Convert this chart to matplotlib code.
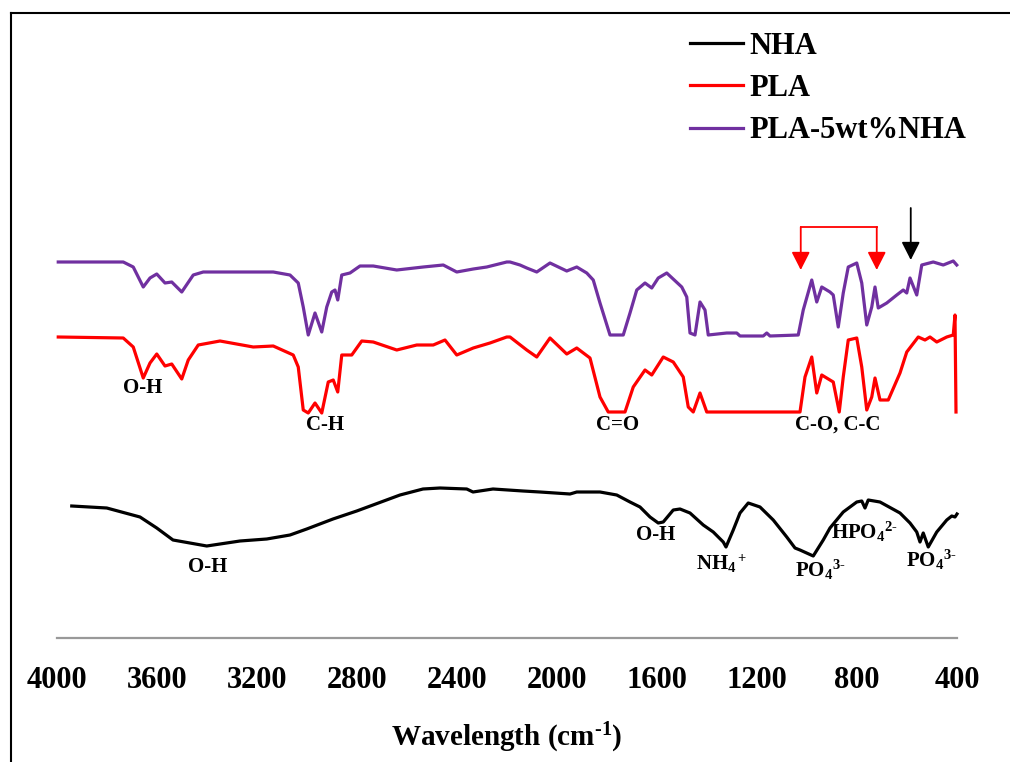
import matplotlib
matplotlib.use("Agg")
import matplotlib.pyplot as plt
from matplotlib.lines import Line2D

# FTIR spectra (wavenumber cm-1, offset transmittance a.u.)
nha_wn = [3941, 3801, 3668, 3601, 3536, 3401, 3268, 3161, 3068, 3001, 2896, 2801, 2736,
          2628, 2536, 2468, 2361, 2336, 2256, 2136, 2068, 1948, 1921, 1828, 1761, 1708,
          1668, 1628, 1595, 1575, 1535, 1508, 1468, 1415, 1375, 1335, 1324, 1295, 1268,
          1235, 1188, 1135, 1081, 1048, 1028, 975, 935, 908, 855, 801, 781, 768, 755,
          708, 628, 588, 561, 548, 535, 515, 481, 441, 421, 408, 400]
nha_t = [1.32, 1.30, 1.21, 1.10, 0.98, 0.92, 0.97, 0.99, 1.03, 1.09, 1.19, 1.27, 1.33,
         1.43, 1.49, 1.50, 1.49, 1.46, 1.49, 1.47, 1.46, 1.44, 1.46, 1.46, 1.43, 1.36,
         1.31, 1.21, 1.15, 1.16, 1.28, 1.29, 1.25, 1.13, 1.06, 0.96, 0.91, 1.08, 1.25,
         1.35, 1.31, 1.18, 1.01, 0.90, 0.88, 0.82, 0.98, 1.10, 1.26, 1.36, 1.37, 1.30, 1.38,
         1.36, 1.25, 1.15, 1.06, 0.96, 1.05, 0.91, 1.06, 1.18, 1.22, 1.21, 1.24]

pla_wn = [3995, 3735, 3695, 3655, 3628, 3601, 3568, 3541, 3501, 3475, 3435, 3348, 3215,
          3135, 3055, 3035, 3015, 2995, 2968, 2941, 2915, 2895, 2877, 2861, 2821, 2781,
          2735, 2641, 2561, 2495, 2448, 2401, 2335, 2268, 2201, 2188, 2121, 2081, 2028,
          1961, 1921, 1868, 1828, 1795, 1728, 1695, 1648, 1621, 1575, 1535, 1495, 1475,
          1455, 1428, 1401, 1028, 1008, 981, 961, 941, 895, 871, 855, 835, 801, 781, 761,
          741, 728, 708, 675, 628, 601, 555, 528, 508, 481, 441, 415, 408, 404]
pla_t = [3.01, 3.00, 2.91, 2.60, 2.75, 2.84, 2.72, 2.74, 2.59, 2.78, 2.93, 2.97, 2.91,
         2.92, 2.83, 2.71, 2.28, 2.25, 2.35, 2.25, 2.56, 2.58, 2.46, 2.83, 2.83, 2.97,
         2.96, 2.88, 2.93, 2.93, 2.98, 2.83, 2.90, 2.95, 3.01, 3.01, 2.88, 2.81, 3.00,
         2.84, 2.90, 2.80, 2.41, 2.26, 2.26, 2.51, 2.68, 2.63, 2.81, 2.76, 2.61, 2.31,
         2.26, 2.45, 2.26, 2.26, 2.61, 2.81, 2.45, 2.63, 2.56, 2.26, 2.61, 2.98, 3.00, 2.71, 2.28,
         2.41, 2.60, 2.38, 2.38, 2.65, 2.86, 3.01, 2.98, 3.01, 2.96, 3.01, 3.03, 3.23, 2.26]

mix_wn = [3995, 3735, 3695, 3655, 3628, 3601, 3568, 3541, 3501, 3455, 3415, 3215, 3135,
          3068, 3035, 3015, 2995, 2968, 2941, 2921, 2901, 2888, 2877, 2861, 2828, 2788,
          2735, 2641, 2535, 2455, 2401, 2335, 2281, 2201, 2188, 2148, 2121, 2081, 2028,
          1961, 1921, 1881, 1855, 1828, 1788, 1735, 1708, 1681, 1648, 1621, 1595, 1561,
          1501, 1481, 1468, 1448, 1428, 1408, 1395, 1321, 1281, 1268, 1175, 1161, 1148,
          1035, 1015, 981, 961, 941, 908, 895, 875, 855, 835, 801, 781, 761, 741, 728,
          715, 681, 641, 615, 601, 588, 561, 541, 495, 455, 415, 401]
mix_t = [3.76, 3.76, 3.71, 3.51, 3.60, 3.64, 3.55, 3.56, 3.46, 3.63, 3.66, 3.66, 3.66,
         3.63, 3.55, 3.31, 3.03, 3.25, 3.06, 3.31, 3.46, 3.48, 3.38, 3.63, 3.65, 3.72,
         3.72, 3.68, 3.71, 3.73, 3.66, 3.69, 3.71, 3.76, 3.76, 3.73, 3.70, 3.66, 3.75,
         3.67, 3.71, 3.65, 3.58, 3.35, 3.03, 3.03, 3.25, 3.48, 3.55, 3.50, 3.60, 3.65,
         3.51, 3.41, 3.05, 3.03, 3.36, 3.28, 3.03, 3.05, 3.05, 3.02, 3.02, 3.05, 3.02,
         3.03, 3.28, 3.58, 3.36, 3.51, 3.46, 3.43, 3.11, 3.45, 3.71, 3.75, 3.55, 3.13, 3.31, 3.51,
         3.30, 3.35, 3.43, 3.48, 3.45, 3.60, 3.43, 3.73, 3.76, 3.73, 3.77, 3.73]

series_names = ["NHA", "PLA", "PLA-5wt%NHA"]
series_colors = ["#000000", "#FF0000", "#7030A0"]

tick_values = [4000, 3600, 3200, 2800, 2400, 2000, 1600, 1200, 800, 400]

# band labels: (text, wavenumber, y)
band_labels = [
    ("O-H", 3656, 2.50), ("C-H", 2926, 2.13), ("C=O", 1756, 2.13), ("C-O, C-C", 876, 2.13),
    ("O-H", 3396, 0.71), ("O-H", 1604, 1.03), (r"NH$_4$$^+$", 1340, 0.74),
    (r"PO$_4$$^{3\text{-}}$", 948, 0.68), (r"HPO$_4$$^{2\text{-}}$", 772, 1.06),
    (r"PO$_4$$^{3\text{-}}$", 504, 0.78),
]

plt.rcParams["font.family"] = ["Liberation Serif", "DejaVu Serif"]
plt.rcParams["font.weight"] = "bold"
plt.rcParams["mathtext.fontset"] = "custom"
plt.rcParams["mathtext.rm"] = "Liberation Serif:bold"
plt.rcParams["mathtext.it"] = "Liberation Serif:bold"
plt.rcParams["mathtext.bf"] = "Liberation Serif:bold"

W, H = 1010, 762
fig = plt.figure(figsize=(W / 100, H / 100), dpi=100)
ax = fig.add_axes([57 / W, (H - 638) / H, 900 / W, 626 / H])

lw = 2.3
for wn, t, name, c in zip([nha_wn, pla_wn, mix_wn], [nha_t, pla_t, mix_t], series_names, series_colors):
    ax.plot(wn, t, color=c, lw=lw, label=name, solid_joinstyle="round", clip_on=False)

ax.set_xlim(4000, 400)
ax.set_ylim(0, 6.26)
for s in ["top", "left", "right"]:
    ax.spines[s].set_visible(False)
ax.spines["bottom"].set_color("#999999")
ax.spines["bottom"].set_linewidth(1.6)
ax.set_yticks([])
ax.set_xticks(tick_values)
ax.set_xticklabels([str(v) for v in tick_values])
ax.tick_params(axis="x", length=0, pad=20, labelsize=22)
ax.set_xlabel(r"Wavelength (cm$^{\text{-}1}$)", fontsize=21, fontweight="bold", labelpad=19)

for txt, x, y in band_labels:
    ax.text(x, y, txt, fontsize=15, fontweight="bold", ha="center", va="center")

# arrows
arrow_kw = dict(arrowstyle="-|>,head_length=0.55,head_width=0.28", lw=1.3, mutation_scale=20,
                shrinkA=0, shrinkB=0)
ax.annotate("", xy=(585, 3.78), xytext=(585, 4.30),
            arrowprops=dict(color="black", **arrow_kw))
ax.plot([1025, 721], [4.11, 4.11], color="red", lw=1.3)
for xa in [1025, 721]:
    ax.annotate("", xy=(xa, 3.68), xytext=(xa, 4.11),
                arrowprops=dict(color="red", **arrow_kw))

leg = ax.legend(loc="upper left", bbox_to_anchor=(690 / W, (H - 32) / H),
                bbox_transform=fig.transFigure, frameon=False, fontsize=22,
                handlelength=1.75, handletextpad=0.2, labelspacing=0.43,
                borderpad=0, borderaxespad=0)
for line in leg.get_lines():
    line.set_linewidth(2.3)

# outer frame (cropped at right and bottom)
fig.add_artist(Line2D([10.5 / W, 10.5 / W], [0, (H - 13) / H], color="black", lw=1.5,
                      transform=fig.transFigure))
fig.add_artist(Line2D([10.5 / W, 1], [(H - 13) / H, (H - 13) / H], color="black", lw=1.5,
                      transform=fig.transFigure))

fig.savefig("out.png", dpi=100)
